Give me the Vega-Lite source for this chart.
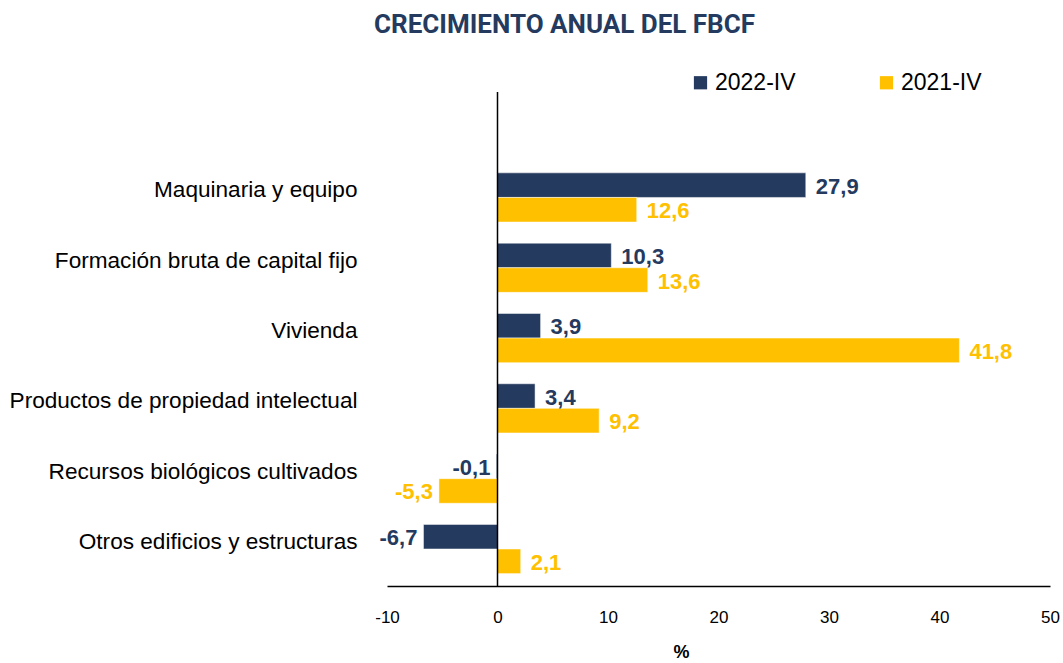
{
  "$schema": "https://vega.github.io/schema/vega-lite/v6.json",
  "width": 663,
  "height": 494,
  "autosize": {"type": "none"},
  "padding": {"left": 387, "top": 92, "right": 13, "bottom": 77},
  "background": "white",
  "config": {
    "view": {"stroke": null},
    "font": "Liberation Sans",
    "locale": {"number": {"decimal": ",", "thousands": ".", "grouping": [3], "currency": ["", ""], "minus": "-"}}
  },
  "title": {
    "text": "CRECIMIENTO ANUAL DEL FBCF",
    "font": "Roboto",
    "fontSize": 26,
    "fontWeight": "bold",
    "color": "#243A5E",
    "anchor": "middle",
    "frame": "group",
    "dx": -154,
    "offset": 12,
    "baseline": "alphabetic"
  },
  "data": {
    "values": [
      {"categoria": "Maquinaria y equipo", "serie": "2022-IV", "valor": 27.9},
      {"categoria": "Maquinaria y equipo", "serie": "2021-IV", "valor": 12.6},
      {"categoria": "Formación bruta de capital fijo", "serie": "2022-IV", "valor": 10.3},
      {"categoria": "Formación bruta de capital fijo", "serie": "2021-IV", "valor": 13.6},
      {"categoria": "Vivienda", "serie": "2022-IV", "valor": 3.9},
      {"categoria": "Vivienda", "serie": "2021-IV", "valor": 41.8},
      {"categoria": "Productos de propiedad intelectual", "serie": "2022-IV", "valor": 3.4},
      {"categoria": "Productos de propiedad intelectual", "serie": "2021-IV", "valor": 9.2},
      {"categoria": "Recursos biológicos cultivados", "serie": "2022-IV", "valor": -0.1},
      {"categoria": "Recursos biológicos cultivados", "serie": "2021-IV", "valor": -5.3},
      {"categoria": "Otros edificios y estructuras", "serie": "2022-IV", "valor": -6.7},
      {"categoria": "Otros edificios y estructuras", "serie": "2021-IV", "valor": 2.1}
    ]
  },
  "encoding": {
    "y": {
      "field": "categoria",
      "type": "nominal",
      "sort": null,
      "scale": {"paddingInner": 0.3, "paddingOuter": 0.663, "align": 0.867},
      "axis": {
        "title": null,
        "domain": false,
        "ticks": false,
        "labelFontSize": 22.6,
        "labelColor": "#000000",
        "labelPadding": 30,
        "labelLimit": 500,
        "labelOffset": -7
      }
    },
    "yOffset": {
      "field": "serie",
      "type": "nominal",
      "sort": ["2022-IV", "2021-IV"],
      "scale": {"paddingInner": 0, "paddingOuter": 0}
    },
    "x": {
      "field": "valor",
      "type": "quantitative",
      "scale": {"domain": [-10, 50], "nice": false, "zero": false},
      "axis": {
        "title": "%",
        "titleFontSize": 18,
        "titleFontWeight": "bold",
        "titleColor": "#000000",
        "titleX": 294,
        "titleY": 71,
        "titleBaseline": "alphabetic",
        "values": [-10, 0, 10, 20, 30, 40, 50],
        "format": "d",
        "grid": false,
        "ticks": false,
        "domainColor": "#000000",
        "domainWidth": 1.5,
        "labelFontSize": 17,
        "labelColor": "#000000",
        "labelPadding": 23,
        "labelFlush": false
      }
    }
  },
  "layer": [
    {
      "mark": {"type": "bar", "stroke": "white", "strokeWidth": 0.5},
      "encoding": {
        "color": {
          "field": "serie",
          "type": "nominal",
          "sort": ["2022-IV", "2021-IV"],
          "scale": {"domain": ["2022-IV", "2021-IV"], "range": ["#243A5E", "#FFC000"]},
          "legend": {
            "title": null,
            "orient": "none",
            "legendX": 302,
            "legendY": -21,
            "direction": "horizontal",
            "symbolType": "square",
            "symbolSize": 175,
            "symbolStrokeWidth": 0,
            "labelFontSize": 23,
            "labelColor": "#000000",
            "labelOffset": 3,
            "columnPadding": 79,
            "padding": 0
          }
        }
      }
    },
    {
      "transform": [{"filter": "datum.valor >= 0"}],
      "mark": {"type": "text", "align": "left", "baseline": "middle", "dx": 10, "dy": 1.5, "fontSize": 22, "fontWeight": "bold"},
      "encoding": {
        "text": {"field": "valor", "type": "quantitative", "format": ".1f"},
        "color": {"field": "serie", "type": "nominal", "legend": null}
      }
    },
    {
      "transform": [{"filter": "datum.valor < 0"}],
      "mark": {"type": "text", "align": "right", "baseline": "middle", "dx": -6, "dy": 1.5, "fontSize": 22, "fontWeight": "bold"},
      "encoding": {
        "text": {"field": "valor", "type": "quantitative", "format": ".1f"},
        "color": {"field": "serie", "type": "nominal", "legend": null}
      }
    },
    {
      "data": {"values": [{"cero": 0}]},
      "mark": {"type": "rule", "color": "#000000", "strokeWidth": 1.5},
      "encoding": {
        "x": {"field": "cero", "type": "quantitative"},
        "y": null,
        "yOffset": null
      }
    }
  ]
}
